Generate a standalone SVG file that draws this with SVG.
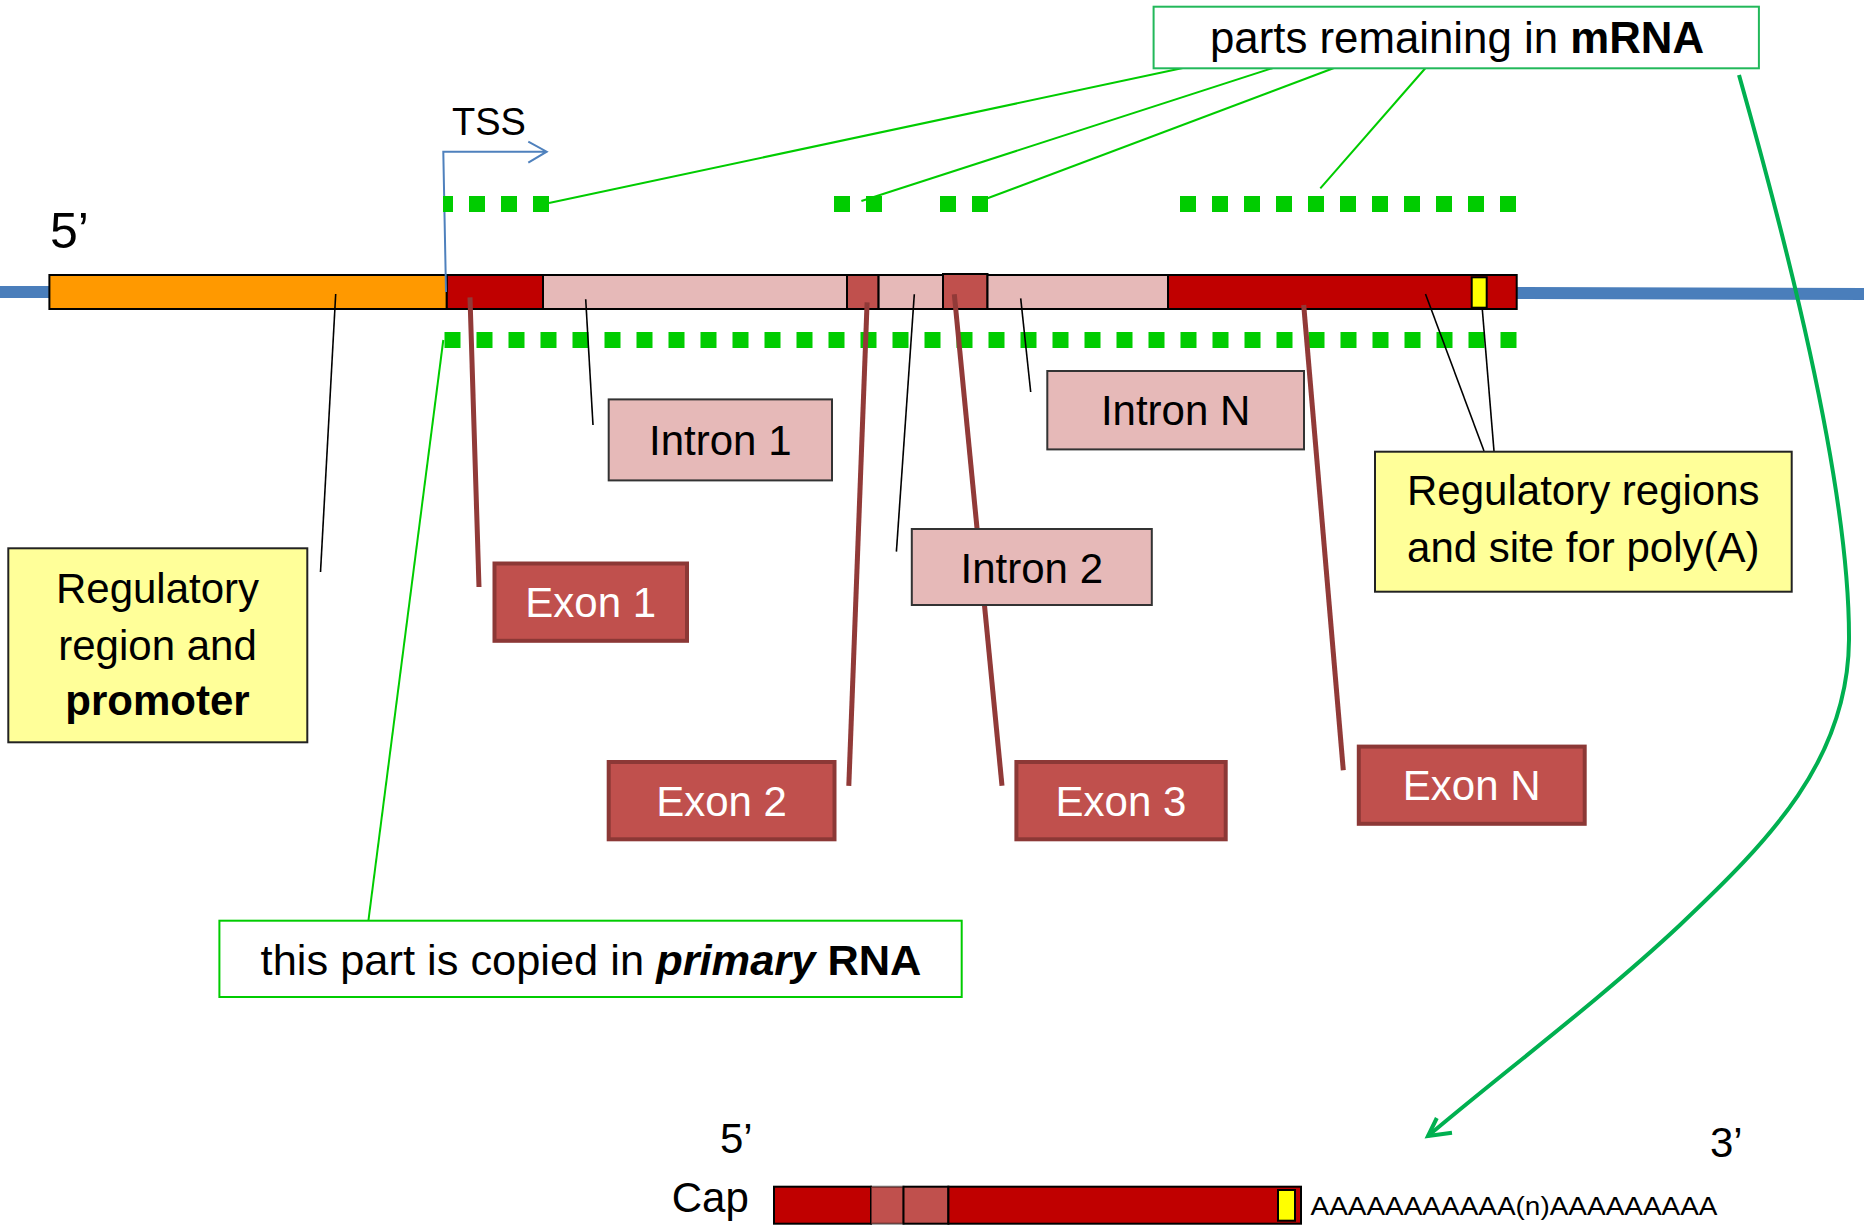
<svg xmlns="http://www.w3.org/2000/svg" width="1864" height="1227" viewBox="0 0 1864 1227">
<style>
.t{font-family:"Liberation Sans",Arial,sans-serif;font-size:42px;fill:#000}
.c{text-anchor:middle}
.w{fill:#fff}
.b{font-weight:bold}
.seg{stroke:#000;stroke-width:2}
.dash{stroke:#00CC00;stroke-width:16;stroke-dasharray:16 16;fill:none}
.gl{stroke:#00CC00;stroke-width:2;fill:none}
.bl{stroke:#000;stroke-width:1.6;fill:none}
.br{stroke:#913A38;stroke-width:5;fill:none}
.yb{fill:#FFFF99;stroke:#222;stroke-width:2}
.ib{fill:#E6B9B8;stroke:#333;stroke-width:2}
.eb{fill:#C0504D;stroke:#8C3836;stroke-width:4}
</style>
<rect width="1864" height="1227" fill="#fff"/>

<g id="gene">
  <line x1="0" y1="292" x2="50" y2="292" stroke="#4A7EBB" stroke-width="12"/>
  <line x1="1516" y1="293" x2="1864" y2="294" stroke="#4A7EBB" stroke-width="12"/>
  <rect class="seg" x="49.4" y="275" width="397.4" height="34" fill="#FF9900"/>
  <rect class="seg" x="446.8" y="275" width="96.2" height="34" fill="#C00000"/>
  <rect class="seg" x="543" y="275" width="304" height="34" fill="#E6B9B8"/>
  <rect class="seg" x="847" y="275" width="31.6" height="34" fill="#C0504D"/>
  <rect class="seg" x="878.6" y="275" width="64.4" height="34" fill="#E6B9B8"/>
  <rect class="seg" x="943" y="274" width="44.5" height="35" fill="#C0504D"/>
  <rect class="seg" x="987.5" y="275" width="180.5" height="34" fill="#E6B9B8"/>
  <rect class="seg" x="1168" y="275" width="348.7" height="34" fill="#C00000"/>
  <rect class="seg" x="1471.7" y="277.3" width="15" height="30.4" fill="#FFFF00"/>
</g>

<g id="tss">
  <path d="M446,292 L443.3,151.7 L546.7,151.7 M528.3,141.7 L546.7,151.7 L528.3,162.7" stroke="#4F81BD" stroke-width="2" fill="none"/>
  <text class="t" x="452" y="135" style="font-size:38px">TSS</text>
</g>

<g id="labels5">
  <text class="t" x="50" y="248" style="font-size:50px">5’</text>
</g>

<g id="mrna-dashes">
  <line class="dash" x1="443" y1="204" x2="549" y2="204" stroke-dashoffset="6"/>
  <line class="dash" x1="834" y1="204" x2="882" y2="204"/>
  <line class="dash" x1="940" y1="204" x2="988" y2="204"/>
  <line class="dash" x1="1180" y1="204" x2="1516" y2="204"/>
</g>
<g id="primary-dashes">
  <line class="dash" x1="444.5" y1="340" x2="1516.5" y2="340"/>
</g>

<g id="connectors">
  <line class="gl" x1="549" y1="203" x2="1182.8" y2="68"/>
  <line class="gl" x1="861.4" y1="201" x2="1273" y2="68"/>
  <line class="gl" x1="987.5" y1="198.3" x2="1334" y2="68"/>
  <line class="gl" x1="1320.3" y1="188.3" x2="1425.5" y2="68"/>
  <line class="gl" x1="443.3" y1="340" x2="368.4" y2="920.7"/>
  <path d="M1739,75 C1780,220 1850,480 1849,640 C1848,760 1770,840 1680,925 C1600,1000 1500,1075 1428,1136" stroke="#00B050" stroke-width="4" fill="none"/>
  <path d="M1436.8,1118 L1428,1136 L1452,1132.7" stroke="#00B050" stroke-width="4" fill="none"/>
  <line class="bl" x1="335.7" y1="294" x2="320.5" y2="572"/>
  <line class="bl" x1="585.7" y1="299.3" x2="593" y2="425"/>
  <line class="bl" x1="914.3" y1="294.3" x2="896.4" y2="551.6"/>
  <line class="bl" x1="1020.7" y1="298.3" x2="1030.7" y2="392"/>
  <line class="bl" x1="1425.5" y1="294" x2="1484" y2="451"/>
  <line class="bl" x1="1482.3" y1="309.3" x2="1494" y2="451"/>
  <line class="br" x1="470" y1="297.3" x2="479" y2="587"/>
  <line class="br" x1="867.1" y1="302.3" x2="848.8" y2="785.8"/>
  <line class="br" x1="954.3" y1="294.3" x2="1002" y2="785.8"/>
  <line class="br" x1="1303.7" y1="305" x2="1343.3" y2="770.3"/>
</g>

<g id="box-mrna">
  <rect x="1153.6" y="6.7" width="605.3" height="61.6" fill="#fff" stroke="#22B85A" stroke-width="2"/>
  <text class="t c" x="1457" y="53.3" style="font-size:43.8px">parts remaining in <tspan class="b">mRNA</tspan></text>
</g>
<g id="box-primary">
  <rect x="219.4" y="920.7" width="742.3" height="76.3" fill="#fff" stroke="#00CC00" stroke-width="2"/>
  <text class="t c" x="591" y="975" style="font-size:43.4px">this part is copied in <tspan class="b" font-style="italic">primary</tspan> <tspan class="b">RNA</tspan></text>
</g>
<g id="box-promoter">
  <rect class="yb" x="8.3" y="548.3" width="299" height="194"/>
  <text class="t c" x="157.5" y="603">Regulatory</text>
  <text class="t c" x="157.5" y="660">region and</text>
  <text class="t c b" x="157.5" y="715">promoter</text>
</g>
<g id="box-polya">
  <rect class="yb" x="1375" y="451.7" width="416.7" height="140"/>
  <text class="t c" x="1583.3" y="505">Regulatory regions</text>
  <text class="t c" x="1583.3" y="561.7">and site for poly(A)</text>
</g>
<g id="intron1">
  <rect class="ib" x="608.7" y="399.4" width="223.3" height="81"/>
  <text class="t c" x="720.3" y="455">Intron 1</text>
</g>
<g id="intron2">
  <rect class="ib" x="911.8" y="529" width="240" height="76"/>
  <text class="t c" x="1031.8" y="583">Intron 2</text>
</g>
<g id="intronN">
  <rect class="ib" x="1047.3" y="371" width="256.7" height="78.4"/>
  <text class="t c" x="1175.6" y="425">Intron N</text>
</g>
<g id="exon1">
  <rect class="eb" x="494.5" y="563.5" width="192.5" height="77.3"/>
  <text class="t c w" x="590.7" y="617">Exon 1</text>
</g>
<g id="exon2">
  <rect class="eb" x="608.7" y="762" width="225.8" height="77.3"/>
  <text class="t c w" x="721.6" y="816">Exon 2</text>
</g>
<g id="exon3">
  <rect class="eb" x="1016.4" y="762" width="209.3" height="77.3"/>
  <text class="t c w" x="1121" y="816">Exon 3</text>
</g>
<g id="exonN">
  <rect class="eb" x="1358.8" y="746.6" width="225.9" height="77.2"/>
  <text class="t c w" x="1471.7" y="800">Exon N</text>
</g>

<g id="mrna">
  <rect class="seg" x="774" y="1186.7" width="97" height="37" fill="#C00000"/>
  <rect class="seg" x="871" y="1186.7" width="32.5" height="37" fill="#C0504D" stroke-opacity="0.5"/>
  <rect class="seg" x="903.5" y="1186.7" width="44.9" height="37" fill="#C0504D"/>
  <rect class="seg" x="948.4" y="1186.7" width="352.6" height="37" fill="#C00000"/>
  <rect class="seg" x="1278" y="1190" width="17" height="30.7" fill="#FFFF00"/>
  <text class="t" x="1310.5" y="1215" style="font-size:26px" textLength="407" lengthAdjust="spacingAndGlyphs">AAAAAAAAAAA(n)AAAAAAAAA</text>
  <text class="t" x="720" y="1153">5’</text>
  <text class="t" x="1710" y="1156.7">3’</text>
  <text class="t" x="671.7" y="1211.7">Cap</text>
</g>
</svg>
